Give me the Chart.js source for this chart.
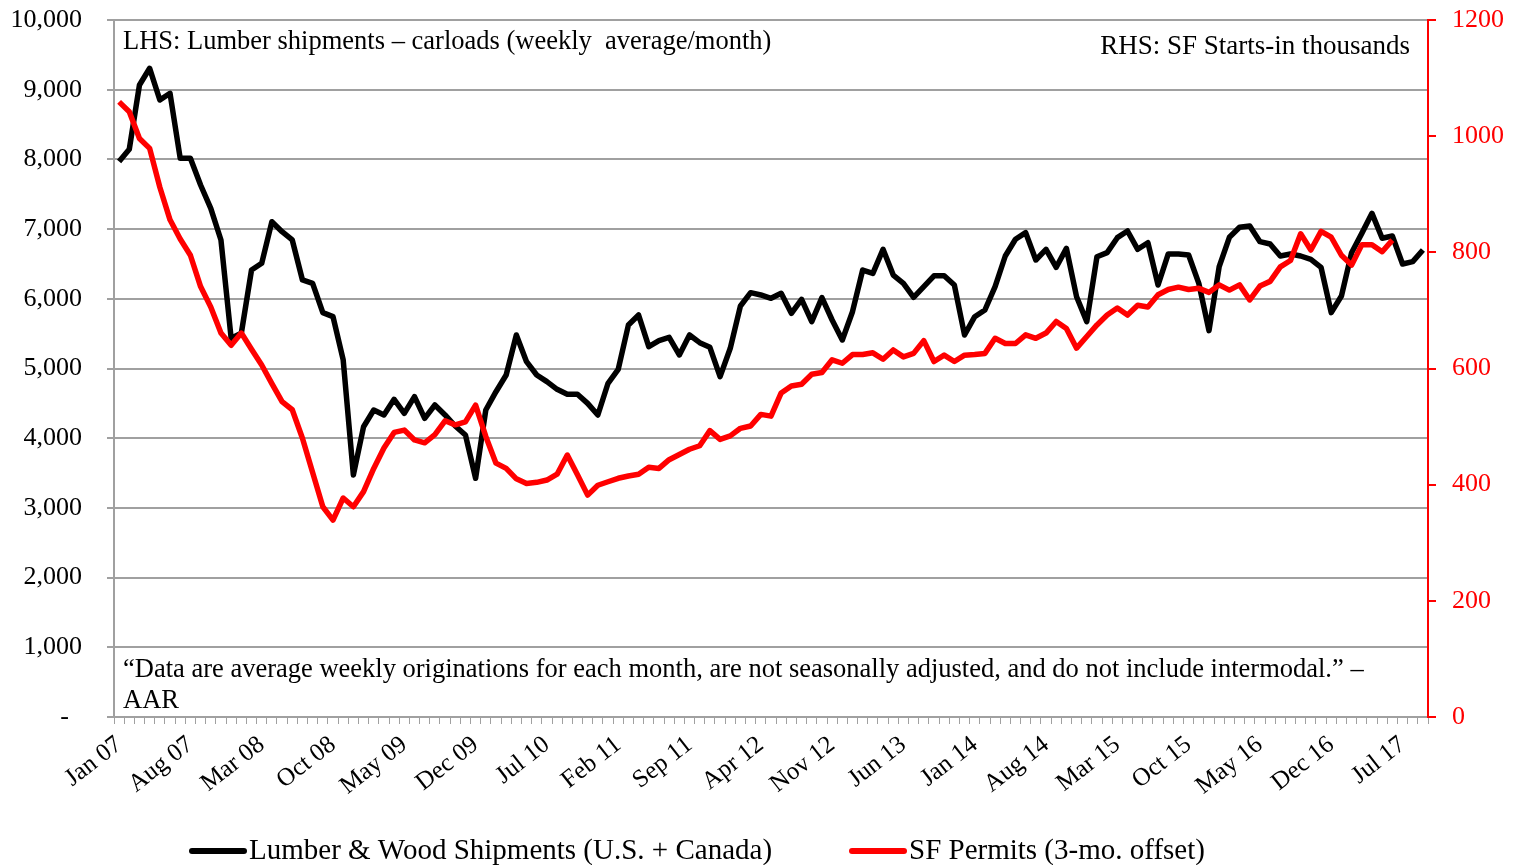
<!DOCTYPE html>
<html>
<head>
<meta charset="utf-8">
<script src="https://cdn.jsdelivr.net/npm/chart.js@4.4.0/dist/chart.umd.min.js"></script>
<style>
  html, body { margin: 0; padding: 0; background: #fff; }
  canvas { display: block; }
</style>
</head>
<body>
<canvas id="myChart" width="1515" height="865"></canvas>
<script>
// month categories, Jan 07 .. Sep 17
const months = [
  'Jan 07','Feb 07','Mar 07','Apr 07','May 07','Jun 07','Jul 07','Aug 07','Sep 07','Oct 07','Nov 07','Dec 07',
  'Jan 08','Feb 08','Mar 08','Apr 08','May 08','Jun 08','Jul 08','Aug 08','Sep 08','Oct 08','Nov 08','Dec 08',
  'Jan 09','Feb 09','Mar 09','Apr 09','May 09','Jun 09','Jul 09','Aug 09','Sep 09','Oct 09','Nov 09','Dec 09',
  'Jan 10','Feb 10','Mar 10','Apr 10','May 10','Jun 10','Jul 10','Aug 10','Sep 10','Oct 10','Nov 10','Dec 10',
  'Jan 11','Feb 11','Mar 11','Apr 11','May 11','Jun 11','Jul 11','Aug 11','Sep 11','Oct 11','Nov 11','Dec 11',
  'Jan 12','Feb 12','Mar 12','Apr 12','May 12','Jun 12','Jul 12','Aug 12','Sep 12','Oct 12','Nov 12','Dec 12',
  'Jan 13','Feb 13','Mar 13','Apr 13','May 13','Jun 13','Jul 13','Aug 13','Sep 13','Oct 13','Nov 13','Dec 13',
  'Jan 14','Feb 14','Mar 14','Apr 14','May 14','Jun 14','Jul 14','Aug 14','Sep 14','Oct 14','Nov 14','Dec 14',
  'Jan 15','Feb 15','Mar 15','Apr 15','May 15','Jun 15','Jul 15','Aug 15','Sep 15','Oct 15','Nov 15','Dec 15',
  'Jan 16','Feb 16','Mar 16','Apr 16','May 16','Jun 16','Jul 16','Aug 16','Sep 16','Oct 16','Nov 16','Dec 16',
  'Jan 17','Feb 17','Mar 17','Apr 17','May 17','Jun 17','Jul 17','Aug 17','Sep 17'
];

// lumber & wood carloads, weekly average per month (LHS)
const lumber = [
  7970, 8145, 9067, 9307, 8852, 8948, 8015, 8015, 7633, 7298, 6844, 5433,
  5505, 6413, 6509, 7106, 6963, 6844, 6270, 6222, 5801, 5745, 5122, 3472,
  4165, 4405, 4333, 4558, 4357, 4596, 4285, 4476, 4333, 4175, 4046, 3425,
  4405, 4667, 4907, 5481, 5098, 4907, 4811, 4701, 4630, 4630, 4500, 4333,
  4788, 4988, 5624, 5768, 5313, 5399, 5447, 5194, 5481, 5371, 5304, 4883,
  5290, 5897, 6088, 6055, 6007, 6079, 5792, 5993, 5672, 6017, 5696, 5409,
  5815, 6413, 6365, 6710, 6341, 6222, 6021, 6174, 6330, 6330, 6198, 5481,
  5743, 5839, 6174, 6614, 6854, 6949, 6557, 6710, 6452, 6724, 6030, 5672,
  6604, 6662, 6877, 6973, 6710, 6805, 6198, 6643, 6643, 6628, 6222, 5543,
  6461, 6882, 7026, 7044, 6820, 6787, 6614, 6643, 6614, 6566, 6452, 5801,
  6040, 6662, 6939, 7226, 6868, 6901, 6499, 6533, 6700
];

// single-family permits, thousands, shifted 3 months (RHS)
const permits = [
  1059, 1042, 996, 979, 912, 856, 823, 795, 741, 706, 661, 640,
  661, 633, 606, 574, 543, 529, 480, 421, 362, 339, 377, 362,
  388, 428, 463, 490, 494, 477, 472, 486, 510, 503, 508, 537,
  483, 437, 428, 410, 402, 404, 408, 418, 451, 417, 382, 399,
  405, 411, 415, 418, 430, 428, 443, 452, 461, 467, 493, 478,
  484, 497, 501, 521, 518, 558, 570, 573, 590, 593, 615, 609,
  624, 624, 627, 616, 632, 620, 626, 648, 612, 623, 612, 623,
  624, 626, 652, 643, 643, 658, 652, 661, 681, 669, 635, 655,
  675, 692, 704, 692, 709, 706, 727, 736, 740, 736, 738, 731,
  744, 735, 744, 718, 742, 750, 775, 786, 832, 804, 836, 826,
  795, 778, 813, 813, 801, 821
];

const lhsLabels = ['-  ', '1,000', '2,000', '3,000', '4,000', '5,000', '6,000', '7,000', '8,000', '9,000', '10,000'];
const rhsLabels = ['0', '200', '400', '600', '800', '1000', '1200'];

const seriesNames = ['Lumber & Wood Shipments (U.S. + Canada)', 'SF Permits (3-mo. offset)'];
const lhsNote = 'LHS: Lumber shipments \u2013 carloads (weekly  average/month)';
const rhsNote = 'RHS: SF Starts-in thousands';
const sourceNote = ['\u201CData are average weekly originations for each month, are not seasonally adjusted, and do not include intermodal.\u201D \u2013', 'AAR'];

const serif = '"Liberation Serif", "Times New Roman", serif';
const gridGrey = '#a0a0a0';

// notes + legend drawn on top
const notes = {
  id: 'notes',
  afterDraw(chart) {
    const ctx = chart.ctx;
    ctx.save();
    ctx.fillStyle = '#000';
    ctx.textBaseline = 'middle';
    ctx.textAlign = 'left';
    ctx.font = '26.5px ' + serif;
    ctx.fillText(lhsNote, 123, 42);
    ctx.fillText(sourceNote[0], 123, 670);
    ctx.fillText(sourceNote[1], 123, 701);
    ctx.textAlign = 'right';
    ctx.font = '27px ' + serif;
    ctx.fillText(rhsNote, 1410, 47);

    // legend
    ctx.font = '29px ' + serif;
    ctx.textAlign = 'left';
    ctx.lineWidth = 6;
    ctx.lineCap = 'round';
    const items = [[192, '#000'], [852, '#ff0000']];
    items.forEach((it, i) => {
      ctx.strokeStyle = it[1];
      ctx.beginPath();
      ctx.moveTo(it[0], 851);
      ctx.lineTo(it[0] + 52, 851);
      ctx.stroke();
      ctx.fillStyle = '#000';
      ctx.fillText(seriesNames[i], it[0] + 57, 851);
    });
    ctx.restore();
  }
};

// fixed axis sizes so the plot area sits where the original one does
function fixWidth(w) {
  return (s) => {
    s.width = w;
    s.paddingTop = 0;
    s.paddingBottom = 0;
  };
}

const ctx = document.getElementById('myChart');
const myChart = new Chart(ctx, {
  type: 'line',
  data: {
    labels: months,
    datasets: [{
      label: seriesNames[0],
      data: lumber,
      borderColor: '#000',
      backgroundColor: '#000',
      borderWidth: 5.5,
      pointRadius: 0,
      tension: 0,
      borderJoinStyle: 'round',
      yAxisID: 'y',
      order: 1
    }, {
      label: seriesNames[1],
      data: permits,
      borderColor: '#ff0000',
      backgroundColor: '#ff0000',
      borderWidth: 5.5,
      pointRadius: 0,
      tension: 0,
      borderJoinStyle: 'round',
      yAxisID: 'y1',
      order: 0
    }]
  },
  options: {
    responsive: false,
    animation: false,
    devicePixelRatio: 1,
    layout: { padding: { top: 20, left: 0, right: 0, bottom: 0 } },
    plugins: {
      legend: { display: false },
      tooltip: { enabled: false }
    },
    scales: {
      x: {
        type: 'category',
        offset: true,
        grid: { offset: true, drawOnChartArea: false, color: gridGrey, lineWidth: 1, tickLength: 7 },
        border: { color: gridGrey, width: 2 },
        ticks: {
          autoSkip: false,
          maxRotation: 38,
          minRotation: 38,
          padding: 6,
          color: '#000',
          font: { family: serif, size: 25 },
          callback: (v, i) => (i % 7 === 0 ? months[i] : '')
        },
        afterFit: (s) => { s.height = 148; }
      },
      y: {
        position: 'left',
        min: 0,
        max: 10000,
        grid: { color: gridGrey, lineWidth: 2, tickLength: 7 },
        border: { color: gridGrey, width: 2 },
        ticks: {
          stepSize: 1000,
          padding: 25,
          color: '#000',
          font: { family: serif, size: 26 },
          callback: (v, i) => lhsLabels[i]
        },
        afterFit: fixWidth(114)
      },
      y1: {
        position: 'right',
        min: 0,
        max: 1200,
        grid: { drawOnChartArea: false, color: '#ff0000', lineWidth: 2, tickLength: 8 },
        border: { color: '#ff0000', width: 2 },
        ticks: {
          stepSize: 200,
          padding: 16,
          color: '#ff0000',
          font: { family: serif, size: 26 },
          callback: (v, i) => rhsLabels[i]
        },
        afterFit: fixWidth(87)
      }
    }
  },
  plugins: [notes]
});
</script>
</body>
</html>
